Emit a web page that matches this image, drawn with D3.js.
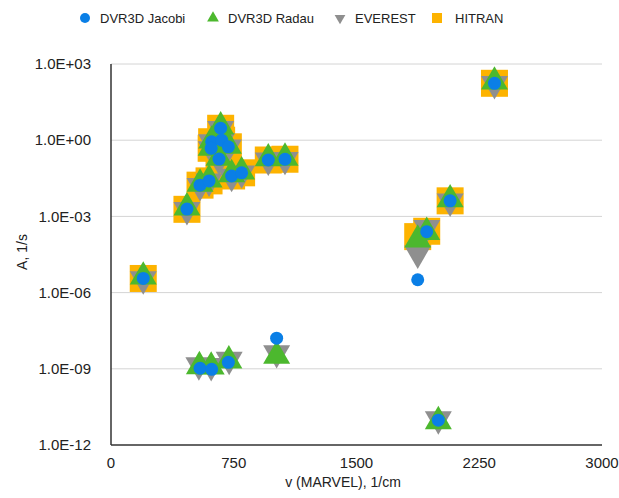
<!DOCTYPE html>
<html>
<head>
<meta charset="utf-8">
<script src="https://cdn.jsdelivr.net/npm/d3@7"></script>
<style>
  body { margin: 0; background: #fff; }
  text { font-family: "Liberation Sans", Arial, sans-serif; fill: #222; }
</style>
</head>
<body>
<div id="chart-container"></div>
<script>
// Wavenumbers (MARVEL), 1/cm, and Einstein A, 1/s, for each source
const jacobiV = [197, 464, 544, 599, 615, 612, 660, 670, 676, 717, 737, 798, 961, 1063, 1874, 1929, 2072, 2343, 544, 615, 717, 1012, 2000];
const jacobiA = [3.6e-6, 1.95e-3, 1.7e-2, 2.5e-2, 0.87, 0.48, 0.18, 2.95, 1.0, 0.55, 0.039, 0.052, 0.166, 0.178, 3.2e-6, 2.5e-4, 4.1e-3, 174, 1.05e-9, 9.5e-10, 1.8e-9, 1.6e-8, 9.5e-12];

const radauV = [197, 464, 544, 599, 615, 612, 660, 670, 676, 717, 737, 798, 961, 1063, 1874, 1929, 2072, 2343, 540, 612, 720, 1012, 2000];
const radauA = [4.2e-6, 2.2e-3, 1.9e-2, 2.8e-2, 0.95, 0.5, 0.2, 3.4, 1.1, 0.6, 0.045, 0.058, 0.19, 0.2, 1.2e-4, 2.4e-4, 4.6e-3, 200, 1.25e-9, 1.2e-9, 2.1e-9, 3.2e-9, 8.5e-12];

const everestV = [197, 464, 544, 599, 615, 612, 660, 670, 676, 717, 737, 798, 961, 1063, 1874, 1929, 2072, 2343, 537, 612, 722, 1012, 2000];
const everestA = [3.4e-6, 1.8e-3, 1.6e-2, 2.4e-2, 0.85, 0.45, 0.17, 2.8, 0.95, 0.52, 0.037, 0.05, 0.16, 0.17, 3.5e-5, 3.6e-4, 3.9e-3, 165, 1.4e-9, 1.3e-9, 2.3e-9, 4.2e-9, 1.05e-11];

const hitranV = [197, 464, 544, 599, 615, 612, 660, 670, 676, 717, 737, 798, 961, 1063, 1874, 1929, 2072, 2343];
const hitranA = [3.6e-6, 1.9e-3, 1.7e-2, 2.5e-2, 0.87, 0.48, 0.18, 2.95, 1.0, 0.55, 0.039, 0.052, 0.166, 0.178, 1.6e-4, 2.6e-4, 4.1e-3, 174];

const xTicks = [0, 750, 1500, 2250, 3000];
const yTicks = [1e3, 1, 1e-3, 1e-6, 1e-9, 1e-12];
const seriesNames = ['DVR3D Jacobi', 'DVR3D Radau', 'EVEREST', 'HITRAN'];

const width = 619, height = 498;
const margin = { top: 64, right: 17, bottom: 53, left: 111 };

const svg = d3.select('#chart-container')
    .append('svg')
    .attr('width', width)
    .attr('height', height);

const xScale = d3.scaleLinear()
    .domain([0, 3000])
    .range([margin.left, width - margin.right]);

const yScale = d3.scaleLog()
    .domain([1e-12, 1e3])
    .range([height - margin.bottom, margin.top]);

// horizontal grid lines
svg.append('g')
    .selectAll('line')
    .data(yTicks.slice(0, -1))
    .join('line')
    .attr('x1', xScale(0))
    .attr('x2', xScale(3000))
    .attr('y1', d => yScale(d))
    .attr('y2', d => yScale(d))
    .attr('stroke', '#d4d4d4')
    .attr('stroke-width', 1);

// axes lines
svg.append('line')
    .attr('x1', xScale(0)).attr('x2', xScale(3000))
    .attr('y1', yScale(1e-12)).attr('y2', yScale(1e-12))
    .attr('stroke', '#333').attr('stroke-width', 1.5);
svg.append('line')
    .attr('x1', xScale(0)).attr('x2', xScale(0))
    .attr('y1', yScale(1e-12)).attr('y2', yScale(1e3))
    .attr('stroke', '#333').attr('stroke-width', 1.5);

// tick labels
const fmtExp = d => {
    const e = Math.round(Math.log10(d));
    const s = e < 0 ? '-' : '+';
    return '1.0E' + s + String(Math.abs(e)).padStart(2, '0');
};
svg.append('g')
    .selectAll('text')
    .data(yTicks)
    .join('text')
    .attr('x', 91)
    .attr('y', d => yScale(d))
    .attr('dy', '0.35em')
    .attr('text-anchor', 'end')
    .attr('font-size', '15px')
    .text(fmtExp);

svg.append('g')
    .selectAll('text')
    .data(xTicks)
    .join('text')
    .attr('x', d => xScale(d))
    .attr('y', 463)
    .attr('dy', '0.35em')
    .attr('text-anchor', 'middle')
    .attr('font-size', '15px')
    .text(d => d);

// axis titles
svg.append('text')
    .attr('x', 343)
    .attr('y', 482)
    .attr('dy', '0.35em')
    .attr('text-anchor', 'middle')
    .attr('font-size', '14px')
    .text('v (MARVEL), 1/cm');

svg.append('text')
    .attr('transform', 'translate(22,252) rotate(-90)')
    .attr('dy', '0.35em')
    .attr('text-anchor', 'middle')
    .attr('font-size', '14px')
    .text('A, 1/s');

// marker styles
const colors = ['#0a7fe6', '#4cb82e', '#8f8f8f', '#fdb300'];
const side = 27;
const triArea = Math.sqrt(3) / 4 * side * side;

const pts = (vs, as) => vs.map((v, i) => ({ x: v, y: as[i] }));

// HITRAN squares (bottom layer)
svg.append('g')
    .selectAll('rect')
    .data(pts(hitranV, hitranA))
    .join('rect')
    .attr('x', d => xScale(d.x) - side / 2)
    .attr('y', d => yScale(d.y) - side / 2)
    .attr('width', side)
    .attr('height', side)
    .attr('fill', colors[3]);

// EVEREST down triangles
svg.append('g')
    .selectAll('path')
    .data(pts(everestV, everestA))
    .join('path')
    .attr('d', d3.symbol(d3.symbolTriangle, triArea))
    .attr('transform', d => `translate(${xScale(d.x)},${yScale(d.y)}) rotate(180)`)
    .attr('fill', colors[2]);

// DVR3D Radau up triangles
svg.append('g')
    .selectAll('path')
    .data(pts(radauV, radauA))
    .join('path')
    .attr('d', d3.symbol(d3.symbolTriangle, triArea))
    .attr('transform', d => `translate(${xScale(d.x)},${yScale(d.y)})`)
    .attr('fill', colors[1]);

// DVR3D Jacobi circles (top layer)
svg.append('g')
    .selectAll('circle')
    .data(pts(jacobiV, jacobiA))
    .join('circle')
    .attr('cx', d => xScale(d.x))
    .attr('cy', d => yScale(d.y))
    .attr('r', 6.5)
    .attr('fill', colors[0]);

// legend
const legendX = [85, 213, 340, 437];
const legend = svg.append('g');
seriesNames.forEach((name, i) => {
    const g = legend.append('g').attr('transform', `translate(${legendX[i]},18)`);
    if (i === 0) {
        g.append('circle').attr('r', 5).attr('fill', colors[0]);
    } else if (i === 1) {
        g.append('path').attr('d', d3.symbol(d3.symbolTriangle, 60)).attr('fill', colors[1]);
    } else if (i === 2) {
        g.append('path').attr('d', d3.symbol(d3.symbolTriangle, 50))
            .attr('transform', 'rotate(180)').attr('fill', colors[2]);
    } else {
        g.append('rect').attr('x', -5).attr('y', -5).attr('width', 10).attr('height', 10).attr('fill', colors[3]);
    }
    g.append('text')
        .attr('x', i === 3 ? 18 : 15)
        .attr('dy', '0.35em')
        .attr('font-size', '13px')
        .text(name);
});
</script>
</body>
</html>
